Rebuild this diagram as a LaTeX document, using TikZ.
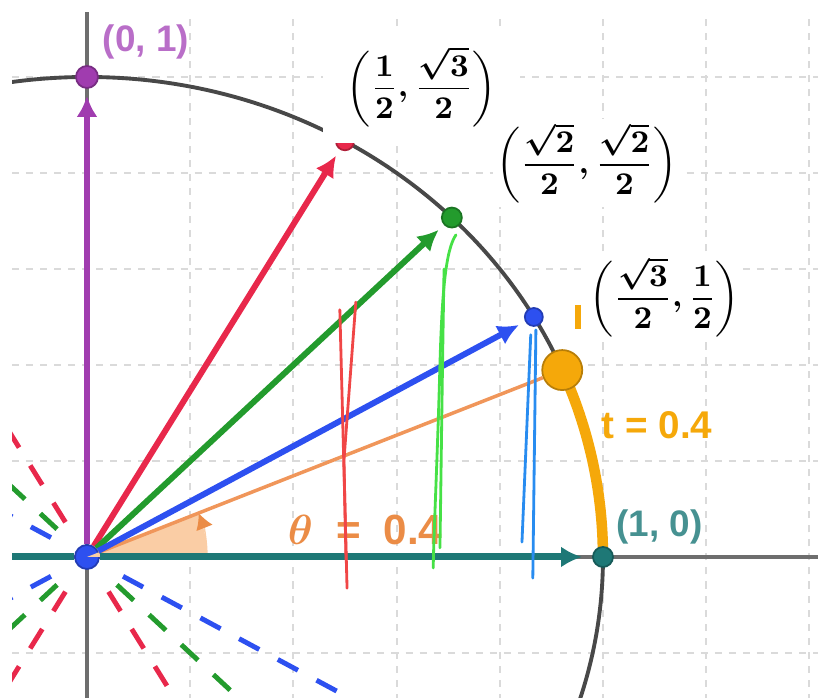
\documentclass[tikz,border=0pt]{standalone}
\usepackage{fontspec}
\setsansfont{Liberation Sans}
\usepackage{amsmath}
\usetikzlibrary{arrows.meta}
\definecolor{gridgray}{RGB}{218,218,218}
\definecolor{axisgray}{RGB}{110,110,110}
\definecolor{circgray}{RGB}{72,72,72}
\definecolor{vecpurple}{RGB}{160,60,175}
\definecolor{labpurple}{RGB}{185,110,200}
\definecolor{vecred}{RGB}{232,40,75}
\definecolor{vecgreen}{RGB}{35,155,45}
\definecolor{vecblue}{RGB}{45,80,240}
\definecolor{vecteal}{RGB}{30,120,118}
\definecolor{labteal}{RGB}{70,145,145}
\definecolor{arcorange}{RGB}{245,168,10}
\definecolor{lineorange}{RGB}{240,150,90}
\definecolor{sectorfill}{RGB}{250,205,165}
\definecolor{thetaorange}{RGB}{235,140,70}
\definecolor{penred}{RGB}{240,70,70}
\definecolor{pengreen}{RGB}{70,225,70}
\definecolor{penblue}{RGB}{40,140,240}

\begin{document}
\boldmath
\begin{tikzpicture}[
  x=5.16cm, y=4.8cm,
  gridline/.style={gridgray, line width=0.6pt, dash pattern=on 2pt off 2pt},
  axisline/.style={axisgray, line width=1.1pt},
  vec/.style={#1, line width=1.7pt, -{Latex[length=6pt,width=6pt]}, shorten >=0.07cm},
  refl/.style={#1, line width=1.4pt, dash pattern=on 6.5pt off 6pt, shorten <=0.28cm},
  ptdot/.style={circle, fill=#1, draw=#1!75!black, line width=0.5pt, inner sep=0pt, minimum size=0.2cm},
  fraclab/.style={fill=white, inner sep=1pt, font=\fontsize{9.5}{12.5}\selectfont},
  lab/.style={text=#1, inner sep=1pt, font=\sffamily\bfseries\fontsize{10.5}{12}\selectfont},
  penline/.style={#1, line width=0.8pt, line cap=round},
]
  \useasboundingbox (-0.1686,-0.2938) rectangle (1.4167,1.1604);
  \clip (-0.1453,-0.2938) rectangle (1.4167,1.135);

  \foreach \gx in {0.2,0.4,0.6,0.8,1.0,1.2,1.4}
    \draw[gridline] (\gx,-0.3) -- (\gx,1.2);
  \foreach \gy in {-0.2,0.2,0.4,0.6,0.8,1.0}
    \draw[gridline] (-0.2,\gy) -- (1.5,\gy);
  \draw[axisline] (-0.2,0) -- (1.5,0);
  \draw[axisline] (0,-0.3) -- (0,1.2);
  \draw[circgray, line width=1.1pt] (0,0) circle[radius=1];

  \node[ptdot=vecblue, minimum size=0.24cm] (o) at (0,0) {};
  \foreach \ang/\col in {-60/vecred,-45/vecgreen,-30/vecblue,120/vecred,135/vecgreen,150/vecblue,210/vecblue,225/vecgreen,240/vecred}
    \draw[refl=\col] (o) -- (\ang:1.3);

  \fill[sectorfill] (0,0) -- (1.2cm,0) arc[start angle=0, end angle=21.45, radius=1.2cm] -- cycle;
  \draw[sectorfill, line width=0.4pt, -{Latex[length=4.5pt,width=5pt,color=thetaorange]}]
    (1.2cm,0) arc[start angle=0, end angle=21.45, radius=1.2cm];
  \draw[arcorange, line width=3pt] plot[domain=0:22.918, samples=30] ({cos(\x)},{sin(\x)});

  \node[ptdot=vecpurple, minimum size=0.22cm] (p90) at (0,1) {};
  \node[ptdot=vecred, minimum size=0.18cm] (p60) at (0.5,0.866) {};
  \node[ptdot=vecgreen] (p45) at (0.7071,0.7071) {};
  \node[ptdot=vecblue, minimum size=0.18cm] (p30) at (0.866,0.5) {};
  \node[ptdot=vecteal] (p0) at (1,0) {};
  \node[ptdot=arcorange, minimum size=0.4cm] (pt) at ({cos(0.4 r)},{sin(0.4 r)}) {};
  \coordinate (xl) at (-0.2,0);

  \draw[lineorange, line width=1pt] (o) -- (pt);
  \draw[vec=vecpurple] (o) -- (p90);
  \draw[vec=vecred] (o) -- (p60);
  \draw[vec=vecgreen] (o) -- (p45);
  \draw[vec=vecblue] (o) -- (p30);
  \draw[vecteal, line width=2pt] (xl) -- (o);
  \draw[vec=vecteal, line width=2pt, shorten >=0.1cm] (o) -- (p0);
  \draw[arcorange, line width=1.5pt] (0.9516,0.525) -- (0.9516,0.475);

  \node[lab=labpurple] (l90) at (0.114,1.073) {(0, 1)};
  \node[lab=labteal] (l0) at (1.110,0.0625) {(1, 0)};
  \node[lab=arcorange, font=\sffamily\bfseries\fontsize{11}{13}\selectfont] (lt) at (1.105,0.275) {t = 0.4};
  \node[lab=thetaorange, font=\sffamily\bfseries\fontsize{12}{14}\selectfont] (lth) at (0.539,0.056)
    {$\theta$\hspace{0.55em}=\hspace{0.55em}0.4};
  \node[fraclab, minimum width=1.97cm, minimum height=1.13cm] (l60) at (0.649,0.980)
    {$\displaystyle\biggl(\frac{1}{2},\frac{\sqrt{3}}{2}\biggr)$};
  \node[fraclab] (l45) at (0.969,0.821) {$\displaystyle\biggl(\frac{\sqrt{2}}{2},\frac{\sqrt{2}}{2}\biggr)$};
  \node[fraclab] (l30) at (1.120,0.542) {$\displaystyle\biggl(\frac{\sqrt{3}}{2},\frac{1}{2}\biggr)$};

  \draw[penline=penred] (0.490,0.515) -- (0.504,-0.065);
  \draw[penline=penred] (0.521,0.531) -- (0.498,0.202) -- (0.502,-0.006);
  \draw[penline=pengreen] (0.715,0.671) .. controls (0.695,0.64) and (0.688,0.55) .. (0.684,0.40) .. controls (0.679,0.20) and (0.672,0.05) .. (0.671,-0.023);
  \draw[penline=pengreen] (0.692,0.600) .. controls (0.688,0.35) and (0.686,0.15) .. (0.684,0.019);
  \draw[penline=penblue] (0.870,0.473) -- (0.864,-0.044);
  \draw[penline=penblue] (0.860,0.463) -- (0.843,0.031);
\end{tikzpicture}
\end{document}
